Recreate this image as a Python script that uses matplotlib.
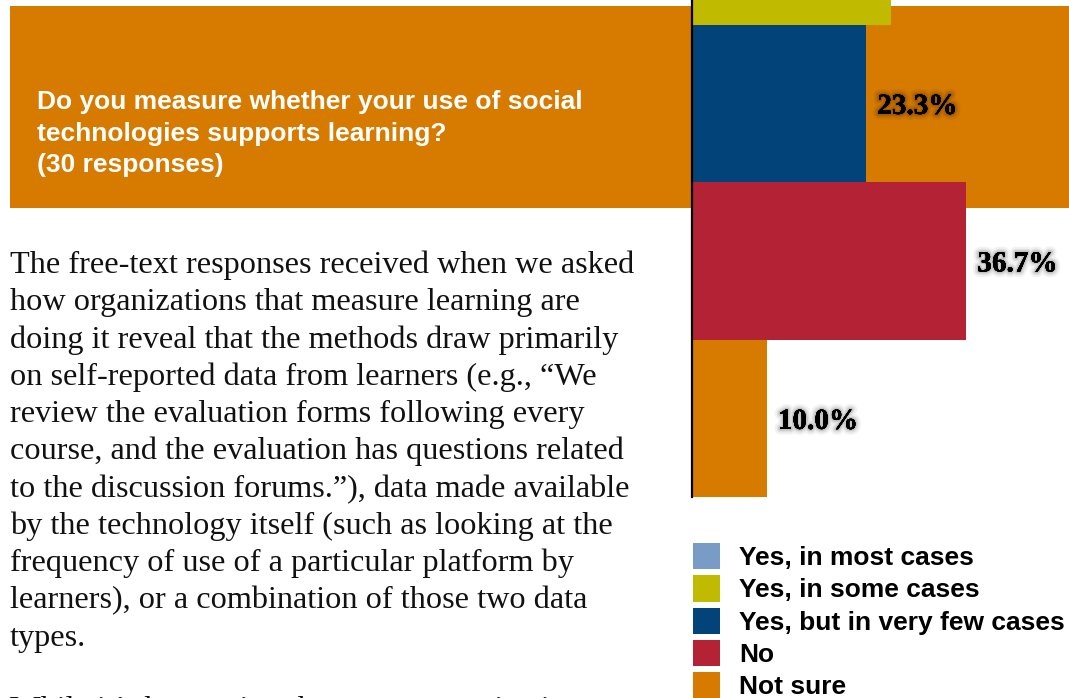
import matplotlib
matplotlib.use("Agg")
import matplotlib.pyplot as plt
from matplotlib.patches import Rectangle, Patch
import matplotlib.patheffects as pe

W, H = 1069, 698

# data
answers = ["Yes, in most cases", "Yes, in some cases", "Yes, but in very few cases",
           "No", "Not sure"]
percents = [3.3, 26.7, 23.3, 36.7, 10.0]
colors = ["#789CC6", "#C0BA00", "#024479", "#B32335", "#D67A00"]
shown = [False, False, True, True, True]   # labels visible in the crop

title_lines = ["Do you measure whether your use of social",
               "technologies supports learning?",
               "(30 responses)"]
body_lines = ["The free-text responses received when we asked",
              "how organizations that measure learning are",
              "doing it reveal that the methods draw primarily",
              "on self-reported data from learners (e.g., \u201cWe",
              "review the evaluation forms following every",
              "course, and the evaluation has questions related",
              "to the discussion forums.\u201d), data made available",
              "by the technology itself (such as looking at the",
              "frequency of use of a particular platform by",
              "learners), or a combination of those two data",
              "types."]
last_line = "While it\u2019s heartening that some organizations"

banner = "#D67A00"


def fx(x):
    return x / W


def fy(y):
    return 1 - y / H


fig = plt.figure(figsize=(W / 100, H / 100), dpi=100)
fig.patch.set_facecolor("white")

# orange banner behind the chart
fig.patches.append(Rectangle((fx(10), fy(208)), fx(W) - fx(10), fy(6) - fy(208),
                             transform=fig.transFigure, facecolor=banner,
                             edgecolor="none", zorder=-5))

for i, line in enumerate(title_lines):
    fig.text(fx(37), fy(109 + 31.5 * i), line, color="white", fontsize=19,
             fontweight="bold", family="Liberation Sans", va="baseline")

for i, line in enumerate(body_lines):
    fig.text(fx(10), fy(273 + 37.3 * i), line, color="#111111", fontsize=23.2,
             family="Liberation Serif", va="baseline")
fig.text(fx(10), fy(718), last_line, color="#111111", fontsize=23.2,
         family="Liberation Serif", va="baseline")

# bar chart, top part runs off the page
bar_px = 157.5
ax_left, ax_bottom = 692, 497
ax_top = ax_bottom - bar_px * len(answers)
ax = fig.add_axes([fx(ax_left), fy(ax_bottom), fx(W) - fx(ax_left),
                   (ax_bottom - ax_top) / H])
ax.set_facecolor("none")
ypos = list(range(len(answers)))[::-1]
ax.barh(ypos, percents, height=1.0, color=colors, zorder=2)
ax.set_ylim(-0.5, len(answers) - 0.5)
ax.set_xlim(0, (W - ax_left) / 7.47)

glow = [pe.withStroke(linewidth=8, foreground=(0, 0, 0, 0.05)),
        pe.withStroke(linewidth=5, foreground=(0, 0, 0, 0.08)),
        pe.withStroke(linewidth=2.5, foreground=(0, 0, 0, 0.12)),
        pe.Normal()]
for y, p, s in zip(ypos, percents, shown):
    if s:
        ax.text(p + 1.5, y - 0.02, f"{p:.1f}%", va="center", ha="left",
                fontsize=21, fontweight="bold", family="Liberation Serif",
                color="black", path_effects=glow, zorder=3)

for s in ["top", "right", "bottom"]:
    ax.spines[s].set_visible(False)
ax.spines["left"].set_linewidth(1.6)
ax.spines["left"].set_zorder(4)
ax.set_xticks([])
ax.set_yticks([])

handles = [Patch(facecolor=c, edgecolor="none") for c in colors]
fig.legend(handles, answers, loc="upper left",
           bbox_to_anchor=(fx(693), fy(543)), frameon=False,
           prop={"family": "Liberation Sans", "weight": "bold", "size": 19},
           handlelength=1.02, handleheight=1.15, handletextpad=0.72,
           labelspacing=0.2, borderpad=0, borderaxespad=0)

fig.savefig("out.png", dpi=100)
